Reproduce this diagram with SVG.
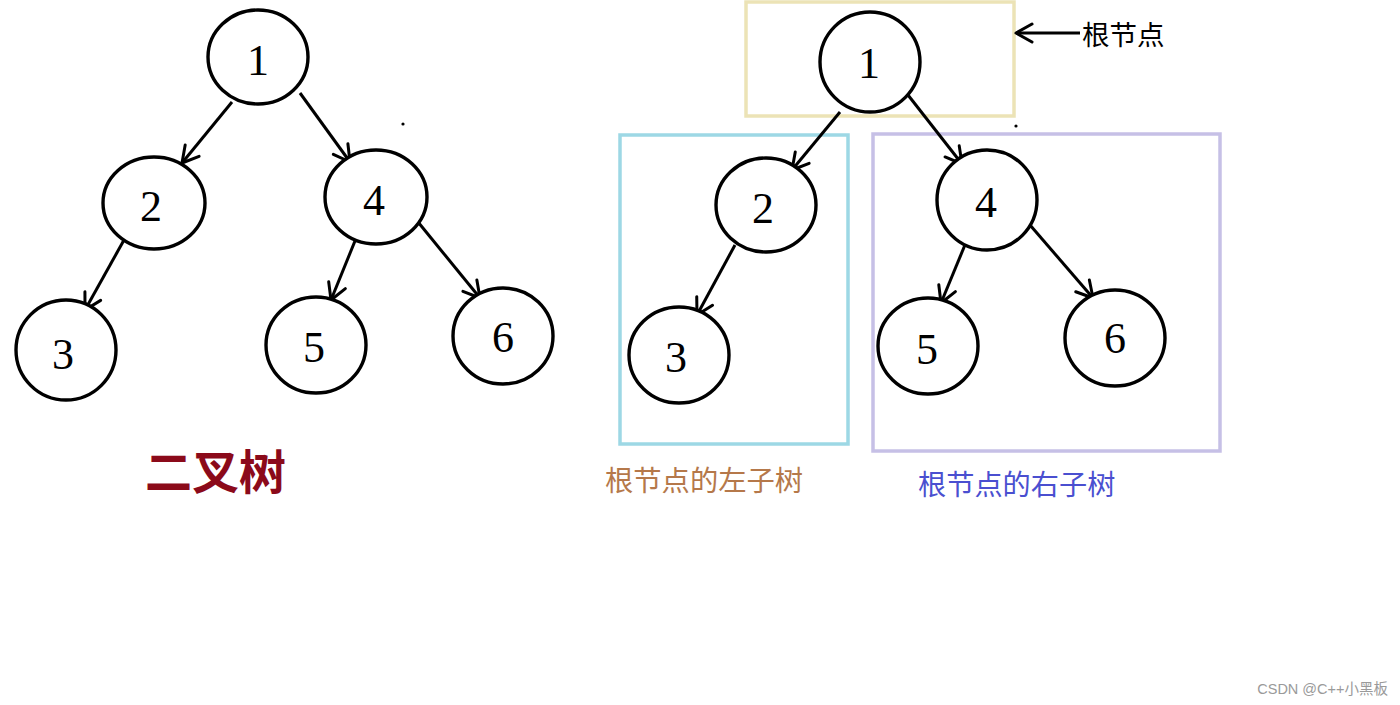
<svg xmlns="http://www.w3.org/2000/svg" width="1400" height="705" viewBox="0 0 1400 705">
<style>
.node ellipse{fill:#fff;stroke:#000;stroke-width:3.4}
.node text{font-family:"Liberation Serif","DejaVu Serif",serif;font-size:44px;fill:#000;text-anchor:middle;dominant-baseline:central}
.edge{stroke:#000;stroke-width:3;fill:none;marker-end:url(#arr)}
.cjk{font-family:"Noto Sans CJK SC",sans-serif}
</style>
<defs>
<marker id="arr" viewBox="0 0 24 24" refX="21" refY="12" markerWidth="24" markerHeight="24" markerUnits="userSpaceOnUse" orient="auto">
<path d="M5,3 L21,12 L5,21" fill="none" stroke="#000" stroke-width="3" stroke-linecap="round" stroke-linejoin="round"/>
</marker>
</defs>
<rect width="1400" height="705" fill="#fff"/>
<g id="boxes" fill="none" stroke-width="3.5">
<rect x="746" y="2" width="268" height="114" stroke="#ece3b6"/>
<rect x="620" y="135" width="228" height="309" stroke="#9dd8e5"/>
<rect x="873" y="134" width="347" height="317" stroke="#c6c0e6"/>
</g>
<g id="connectors">
<line class="edge" x1="232" y1="102" x2="182" y2="163"/>
<line class="edge" x1="300" y1="93" x2="350" y2="162"/>
<line class="edge" x1="124" y1="240" x2="85" y2="310"/>
<line class="edge" x1="357" y1="236" x2="331" y2="300"/>
<line class="edge" x1="418" y1="222" x2="480" y2="298"/>
<line class="edge" x1="840" y1="112" x2="792" y2="170"/>
<line class="edge" x1="908" y1="95" x2="962" y2="164"/>
<line class="edge" x1="735" y1="245" x2="697" y2="315"/>
<line class="edge" x1="967" y1="240" x2="941" y2="303"/>
<line class="edge" x1="1030" y1="225" x2="1093" y2="298"/>
<line class="edge" x1="1080" y1="33" x2="1016" y2="33"/>
</g>
<g id="L1" class="node"><ellipse cx="258" cy="57" rx="50" ry="47"/><text x="258" y="60">1</text></g>
<g id="L2" class="node"><ellipse cx="154" cy="203" rx="51" ry="46"/><text x="151" y="206">2</text></g>
<g id="L4" class="node"><ellipse cx="376" cy="197" rx="51" ry="47"/><text x="374" y="200">4</text></g>
<g id="L3" class="node"><ellipse cx="66" cy="350" rx="50" ry="50"/><text x="63" y="354">3</text></g>
<g id="L5" class="node"><ellipse cx="316" cy="345" rx="50" ry="48"/><text x="314" y="347">5</text></g>
<g id="L6" class="node"><ellipse cx="503" cy="336" rx="50" ry="48"/><text x="503" y="337">6</text></g>
<g id="R1" class="node"><ellipse cx="870" cy="62" rx="50" ry="50"/><text x="869" y="63">1</text></g>
<g id="R2" class="node"><ellipse cx="766" cy="205" rx="50" ry="47"/><text x="763" y="208">2</text></g>
<g id="R4" class="node"><ellipse cx="987" cy="200" rx="50" ry="50"/><text x="986" y="202">4</text></g>
<g id="R3" class="node"><ellipse cx="679" cy="355" rx="50" ry="48"/><text x="676" y="357">3</text></g>
<g id="R5" class="node"><ellipse cx="928" cy="346" rx="50" ry="48"/><text x="927" y="349">5</text></g>
<g id="R6" class="node"><ellipse cx="1115" cy="338" rx="50" ry="48"/><text x="1115" y="338">6</text></g>
<circle cx="403" cy="124" r="1.6" fill="#000"/>
<circle cx="1016" cy="126" r="1.6" fill="#000"/>
<text class="cjk" x="1082" y="45" font-size="27.5" fill="#000">根节点</text>
<text class="cjk" x="145" y="489" font-size="47" fill="#8b0a1a" font-weight="bold">二叉树</text>
<text class="cjk" x="605" y="491" font-size="28.3" fill="#b5784a">根节点的左子树</text>
<text class="cjk" x="918" y="495" font-size="28.2" fill="#4a4fd0">根节点的右子树</text>
<text x="1388" y="694" font-family="Liberation Sans,'Noto Sans CJK SC',sans-serif" font-size="14.5" fill="#9a9a9a" text-anchor="end">CSDN @C++小黑板</text>
</svg>
